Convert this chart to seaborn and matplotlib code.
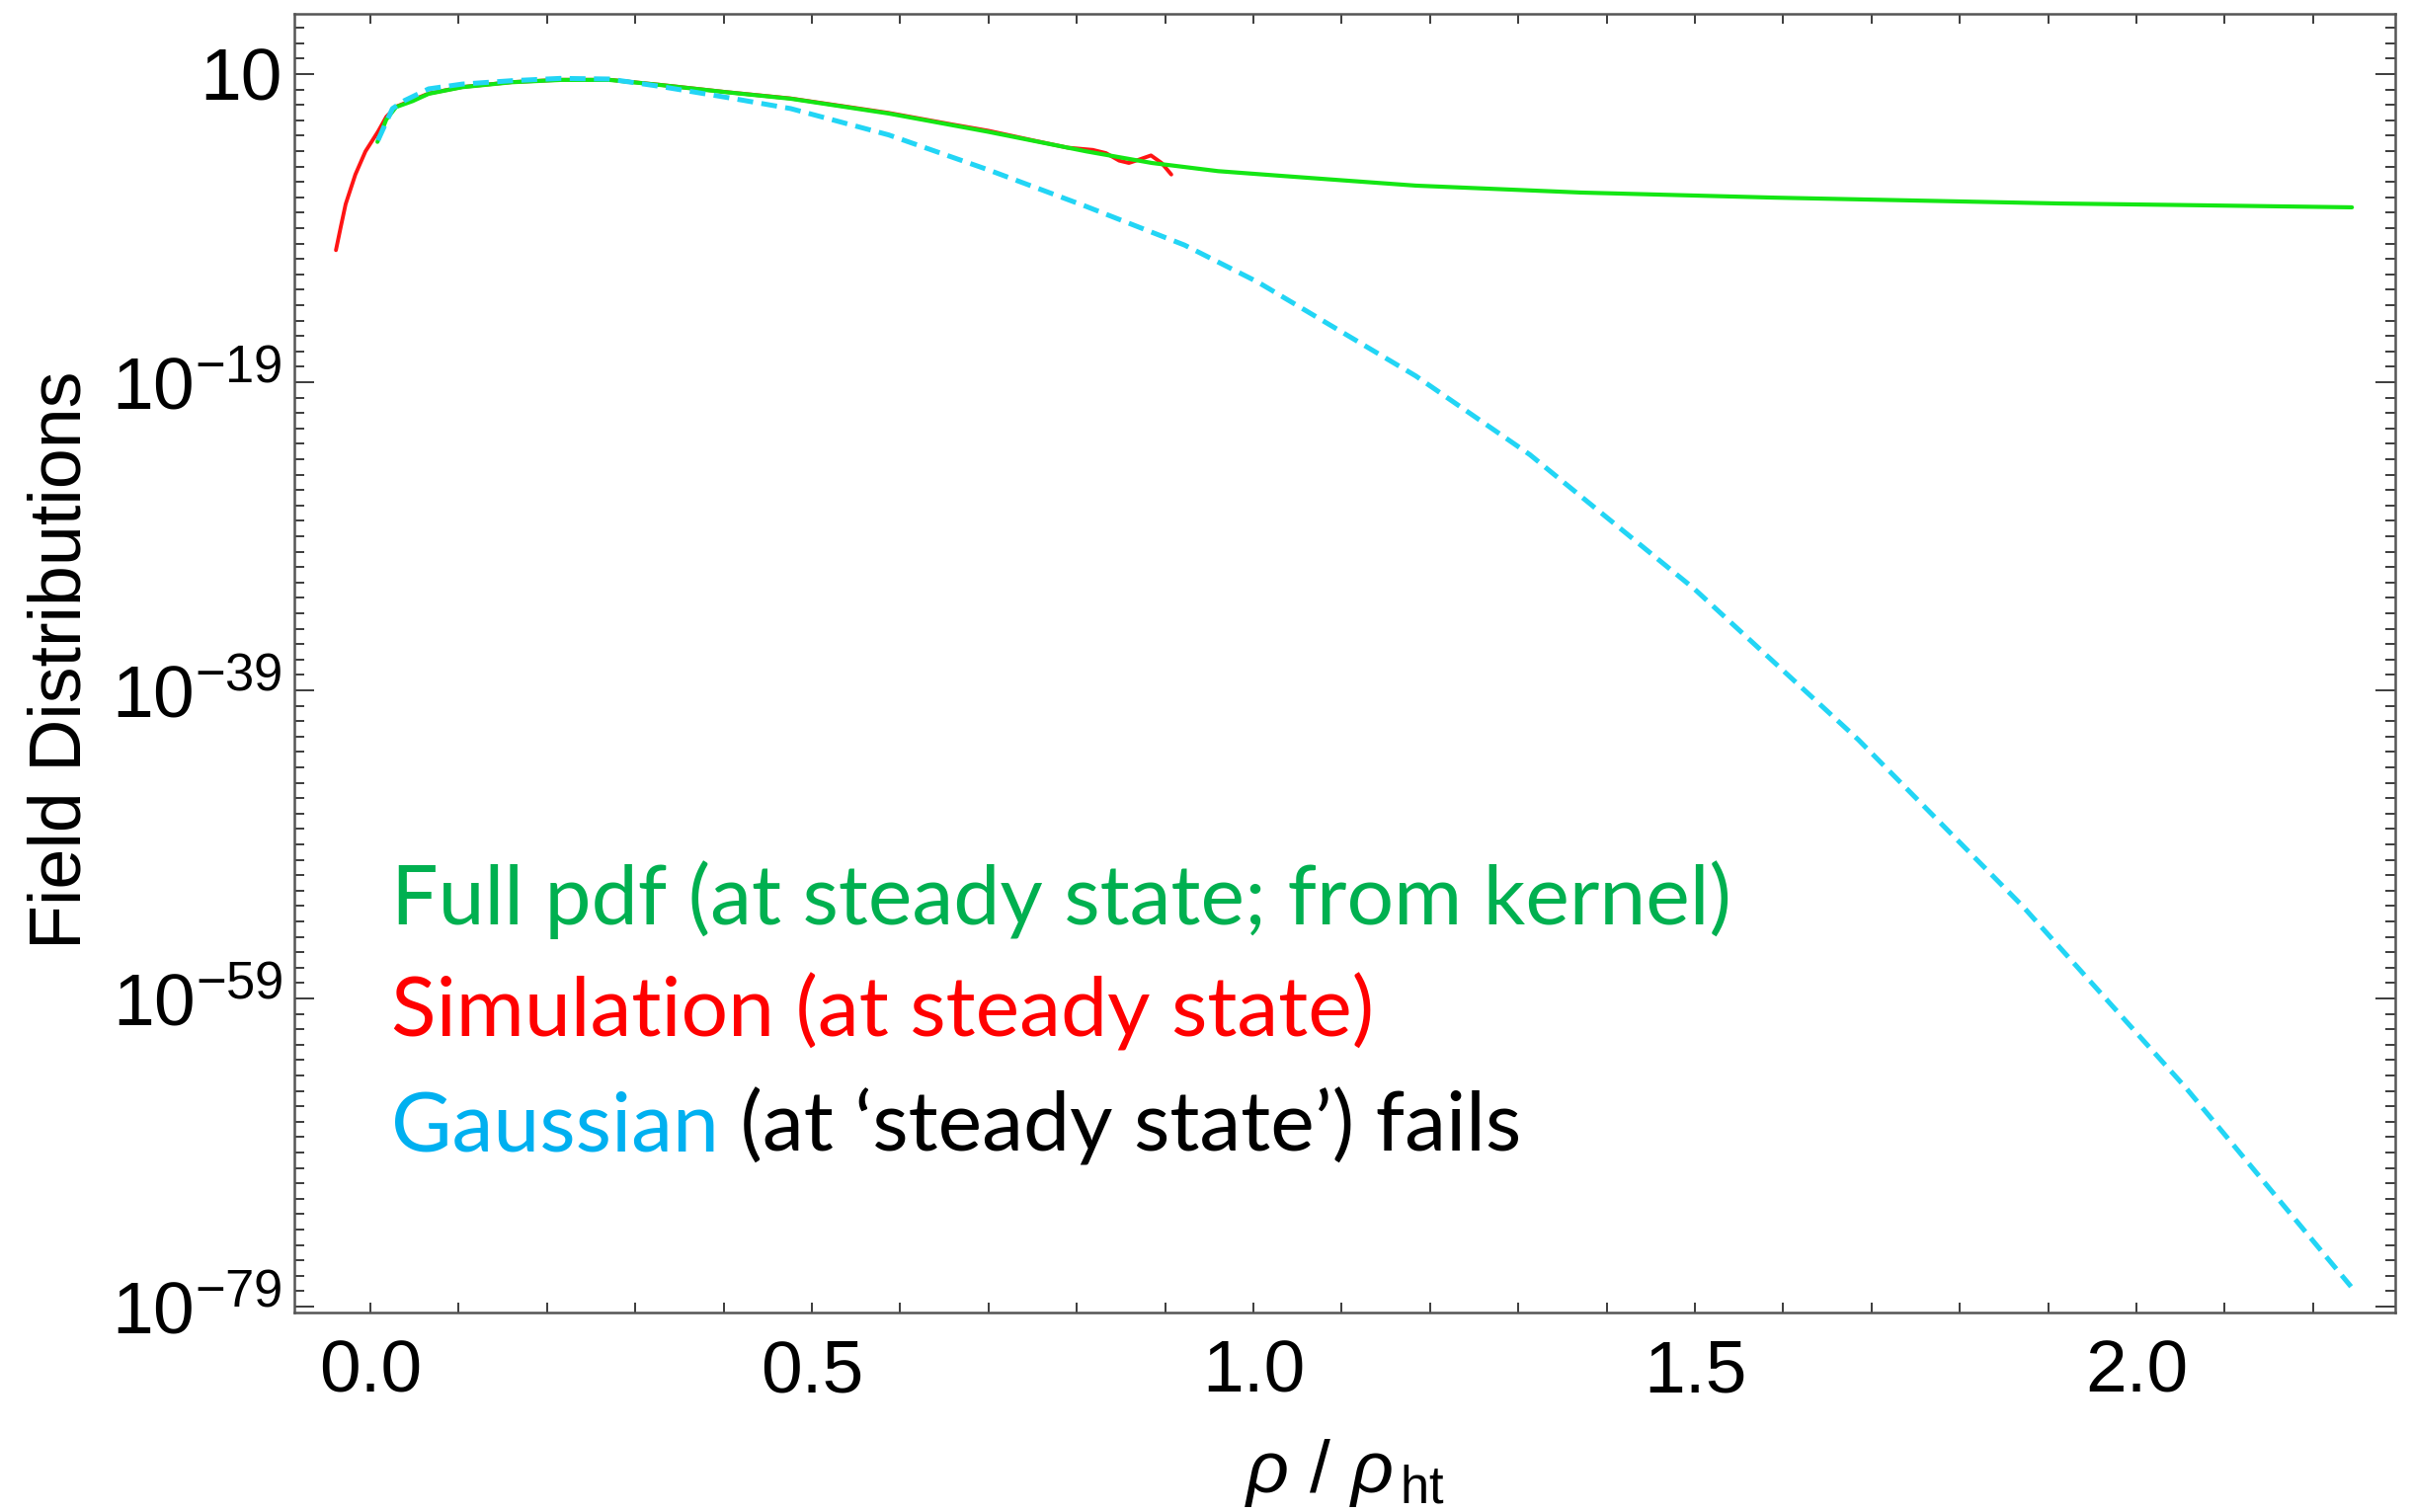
import numpy as np
import pandas as pd
import matplotlib
matplotlib.use("Agg")
import matplotlib.pyplot as plt
import seaborn as sns
from matplotlib.ticker import FixedLocator, FixedFormatter, NullFormatter

# ---------------- data (x = rho/rho_ht, values given as log10 of the distribution) -------------
full_x = [0.008, 0.018, 0.029, 0.048, 0.066, 0.104, 0.16, 0.215, 0.271, 0.327, 0.402, 0.476,
          0.587, 0.699, 0.811, 0.885, 0.96, 1.035, 1.09, 1.184, 1.371, 1.59, 1.913, 2.05, 2.244]
full_log = [-3.4, -1.95, -1.14, -0.75, -0.28, 0.15, 0.47, 0.62, 0.62, 0.30, -0.17, -0.6,
            -1.56, -2.74, -4.02, -4.77, -5.3, -5.62, -5.85, -6.24, -6.69, -7.02, -7.4, -7.5, -7.65]

sim_x = [-0.039, -0.0336, -0.028, -0.017, -0.0056, 0.0086, 0.018, 0.029, 0.066, 0.104, 0.16,
         0.215, 0.271, 0.327, 0.402, 0.476, 0.587, 0.66, 0.70, 0.75, 0.79, 0.818, 0.833, 0.848,
         0.859, 0.870, 0.884, 0.896, 0.907]
sim_log = [-10.43, -8.94, -7.44, -5.52, -4.02, -2.74, -1.78, -1.12, -0.26, 0.16, 0.48,
           0.63, 0.63, 0.31, -0.16, -0.58, -1.52, -2.28, -2.68, -3.3, -3.78, -3.92, -4.13, -4.62,
           -4.77, -4.56, -4.28, -4.77, -5.52]

gauss_x = [0.0086, 0.025, 0.039, 0.066, 0.104, 0.16, 0.215, 0.27, 0.327, 0.402, 0.476, 0.587,
           0.699, 0.811, 0.922, 1.005, 1.184, 1.313, 1.499, 1.685, 1.871, 2.056, 2.243]
gauss_log = [-3.3, -1.24, -0.71, 0.04, 0.35, 0.57, 0.72, 0.68, 0.21, -0.5, -1.24, -2.95,
             -5.2, -7.6, -10.1, -12.5, -18.6, -23.7, -32.4, -42.2, -53.0, -64.8, -77.7]

ytick_exp = [1, -19, -39, -59, -79]
ytick_labels = ["10", r"$10^{-19}$", r"$10^{-39}$", r"$10^{-59}$", r"$10^{-79}$"]
xtick_vals = [0.0, 0.5, 1.0, 1.5, 2.0]
xtick_labels = ["0.0", "0.5", "1.0", "1.5", "2.0"]

legend_lines = ["Full pdf (at steady state; from kernel)", "Simulation (at steady state)"]
gauss_word = "Gaussian"
gauss_rest = " (at \u2018steady state\u2019) fails"

# ---------------- style ----------------
sns.set_theme(style="white")
plt.rcParams["font.family"] = ["Liberation Sans", "DejaVu Sans"]
plt.rcParams["mathtext.fontset"] = "custom"
plt.rcParams["mathtext.rm"] = "Liberation Sans"
plt.rcParams["mathtext.it"] = "Liberation Sans:italic"
plt.rcParams["mathtext.bf"] = "Liberation Sans:bold"

W, H = 2442, 1531
fig = plt.figure(figsize=(W / 100, H / 100), dpi=100)
fig.patch.set_facecolor("white")
L, R, T, B = 298, 2425, 14, 1329
ax = fig.add_axes([L / W, 1 - B / H, (R - L) / W, (B - T) / H])

df_sim = pd.DataFrame({"x": sim_x, "y": 10.0 ** np.array(sim_log)})
df_full = pd.DataFrame({"x": full_x, "y": 10.0 ** np.array(full_log)})
df_gauss = pd.DataFrame({"x": gauss_x, "y": 10.0 ** np.array(gauss_log)})

sns.lineplot(data=df_sim, x="x", y="y", ax=ax, color="#FF1414", linewidth=2.8,
             sort=False, estimator=None)
sns.lineplot(data=df_full, x="x", y="y", ax=ax, color="#14E614", linewidth=3.0,
             sort=False, estimator=None)
sns.lineplot(data=df_gauss, x="x", y="y", ax=ax, color="#22D5F5", linewidth=3.6,
             sort=False, estimator=None, linestyle=(0, (3.2, 1.7)))

ax.set_yscale("log")
ax.set_xlim(-0.0861, 2.293)
ax.set_ylim(10 ** -79.38, 10 ** 4.91)

ax.yaxis.set_major_locator(FixedLocator([10.0 ** e for e in ytick_exp]))
ax.yaxis.set_major_formatter(FixedFormatter(ytick_labels))
ax.yaxis.set_minor_locator(FixedLocator([10.0 ** k for k in range(-79, 5)]))
ax.yaxis.set_minor_formatter(NullFormatter())
ax.xaxis.set_major_locator(FixedLocator(xtick_vals))
ax.xaxis.set_major_formatter(FixedFormatter(xtick_labels))
ax.xaxis.set_minor_locator(FixedLocator(np.round(np.arange(-0.0, 2.29, 0.1), 2)))

tick_col = "#3c3c3c"
ax.tick_params(axis="x", which="both", direction="in", length=7.2, width=1.4, color=tick_col,
               top=True, bottom=True, labelsize=54, pad=19, labelcolor="black")
ax.tick_params(axis="y", which="major", direction="in", length=14.5, width=1.4, color=tick_col,
               left=True, right=True, labelsize=54, pad=9, labelcolor="black")
ax.tick_params(axis="y", which="minor", direction="in", length=7.0, width=1.4, color=tick_col,
               left=True, right=True)
for s in ax.spines.values():
    s.set_visible(True)
    s.set_color("#555555")
    s.set_linewidth(1.8)
ax.grid(False)

ax.set_xlabel(r"$\rho$ / $\rho_{\,\mathrm{ht}}$", fontsize=54, color="black")
ax.xaxis.set_label_coords((1361 - L) / (R - L), (B - 1455) / (B - T))
ax.xaxis.label.set_va("top")
ax.set_ylabel("Field Distributions", fontsize=53, color="black")
ax.yaxis.set_label_coords((97 - L) / (R - L), (B - 668) / (B - T))

# ---------------- legend-like annotation ----------------
lfam = ["Lato", "DejaVu Sans"]
lw_ = "normal"
x0 = 396 / W
base = [936, 1050, 1165]
cols = ["#00B050", "#FF0000"]
fs = 60
t_probe = fig.text(x0, 1 - base[0] / H, legend_lines[0], fontsize=fs, family=lfam,
                   weight=lw_, color=cols[0], va="baseline", ha="left")
fig.canvas.draw()
rend = fig.canvas.get_renderer()
wpx = t_probe.get_window_extent(rend).width
fs = fs * 1360.0 / wpx
t_probe.set_fontsize(fs)
fig.text(x0, 1 - base[1] / H, legend_lines[1], fontsize=fs, family=lfam, weight=lw_,
         color=cols[1], va="baseline", ha="left")
tg = fig.text(x0, 1 - base[2] / H, gauss_word, fontsize=fs, family=lfam, weight=lw_,
              color="#00B0F0", va="baseline", ha="left")
fig.canvas.draw()
bb = tg.get_window_extent(fig.canvas.get_renderer())
fig.text(bb.x1 / W, 1 - base[2] / H, gauss_rest, fontsize=fs, family=lfam, weight=lw_,
         color="black", va="baseline", ha="left")

fig.savefig("out.png", dpi=100, facecolor="white")
